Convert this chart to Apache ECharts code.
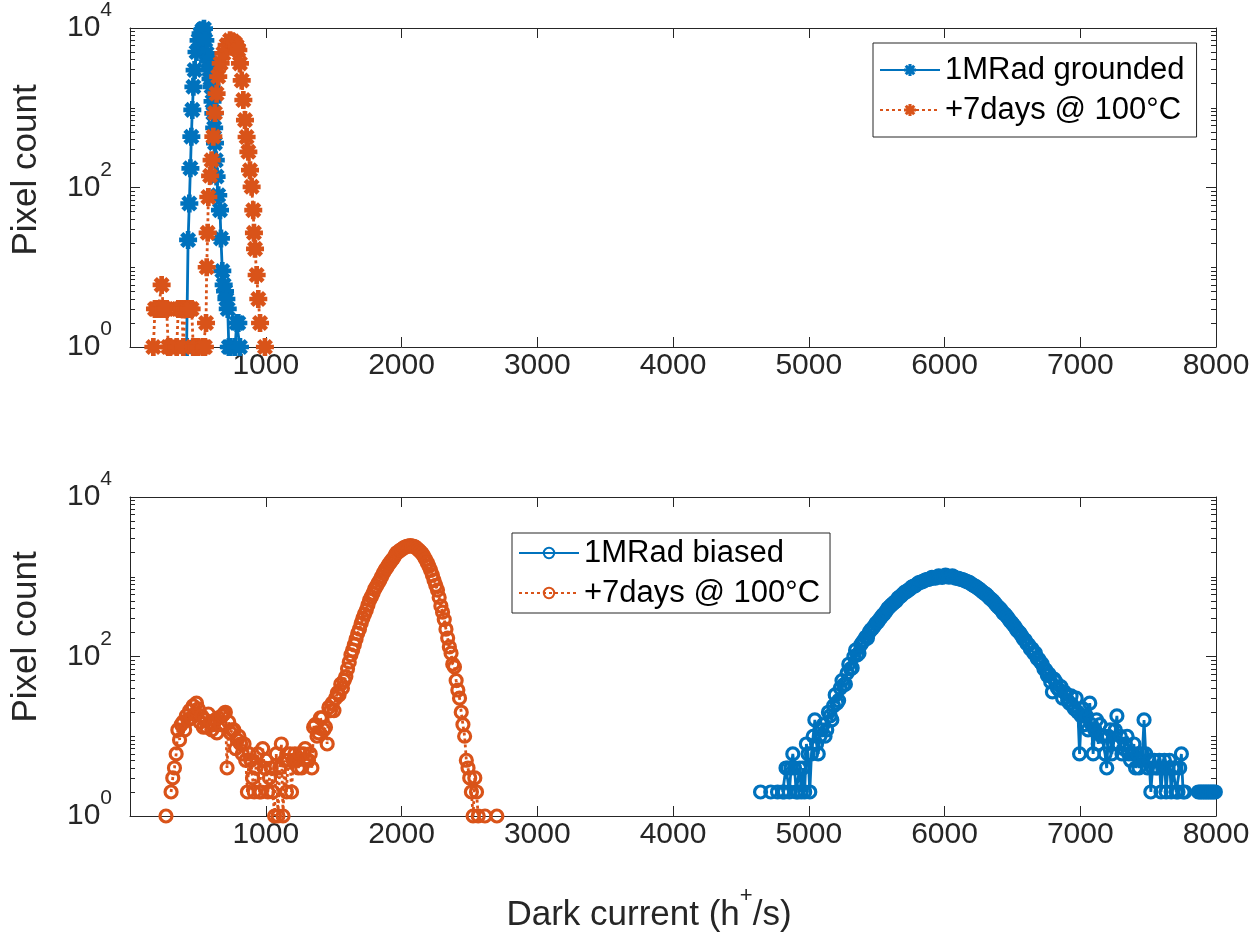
<!DOCTYPE html>
<html><head><meta charset="utf-8">
<script src="https://cdn.jsdelivr.net/npm/echarts@6/dist/echarts.min.js"></script>
<style>html,body{margin:0;padding:0;background:#fff}#c{width:1260px;height:941px}</style>
</head><body><div id="c"></div><script>
// ---------- DATA ----------
const xTicks = [0, 1000, 2000, 3000, 4000, 5000, 6000, 7000, 8000];
const yMajorTicks = [1, 100, 10000];
const yMinorTicks = [2,3,4,5,6,7,8,9,10,20,30,40,50,60,70,80,90,200,300,400,500,600,700,800,900,1000,2000,3000,4000,5000,6000,7000,8000,9000];

// Top panel: 1MRad grounded (x = dark current, y = pixel count, null = empty bin)
const groundedX = [417,428,437,445,452,459,467,476,490,505,520,533,545,555,565,575,584,593,601,608,614,620,626,632,638,650,663,670,680,690,700,710,720,728,740,752,774,786,798,810];
const groundedY = [1,22,63,174,434,940,1830,2970,5000,7000,8500,9400,9800,7000,4800,3800,3000,2300,1830,1200,850,560,360,220,137,80,52,23,9,6,5,4,3,1,1,null,1,2,2,1];

// Top panel: +7days @ 100°C (after grounded irradiation)
const groundedAnnealX = [172,184,196,209,221,233,245,258,270,282,295,320,344,356,368,381,393,405,417,429,442,454,466,479,491,503,515,540,552,560,565,572,577,590,601,614,626,638,650,668,688,712,737,755,773,786,798,810,823,835,847,859,872,884,896,908,913,921,933,945,958,970,994];
const groundedAnnealY = [1,3,3,3,3,6,3,3,3,1,1,null,1,3,3,3,1,3,3,3,3,3,1,null,1,1,null,1,1,2,10,27,76,140,220,434,860,1500,2460,3600,4800,6100,7000,6800,6400,5900,5300,3600,2200,1250,700,430,280,165,102,52,27,17,8,4,2,null,1];

// Bottom panel: histogram bins (first bin centre, bin width) and counts; each row = 8 bins (100 h+/s)
const biasedStart = 4645, biasedBinWidth = 12.5;
const biasedCounts = [
  2,null,null,null,null,null,2,null,        // 4645
  null,null,2,null,null,2,2,4,              // 4745
  4,2,4,6,4,2,2,4,                          // 4845
  2,4,2,8,6,2,6,10,                         // 4945
  16,8,6,10,12,14,10,12,                    // 5045
  20,18,16,24,33,26,28,40,                  // 5145
  50,44,45,62,80,70,72,100,                 // 5245
  120,105,110,140,150,160,175,170,          // 5345
  200,215,225,240,260,270,290,310,          // 5445
  330,345,370,400,420,440,460,480,          // 5545
  500,540,560,580,610,640,650,680,          // 5645
  700,740,760,770,800,840,850,860,          // 5745
  880,910,920,930,950,980,970,960,          // 5845
  990,1030,1000,980,1010,1050,1020,990,     // 5945
  1000,1030,990,960,960,950,930,920,        // 6045
  900,880,860,850,820,790,770,750,          // 6145
  720,700,670,640,620,600,570,540,          // 6245
  520,500,470,440,420,400,380,350,          // 6345
  340,320,300,280,265,250,235,215,          // 6445
  205,195,180,165,160,145,140,125,          // 6545
  125,110,110,95,92,85,80,70,               // 6645
  68,58,60,48,36,52,48,40,                  // 6745
  38,42,30,36,34,28,26,32,                  // 6845
  24,22,30,20,6,18,22,14,                   // 6945
  18,12,26,14,6,12,16,8,                    // 7045
  14,10,10,6,4,10,12,6,                     // 7145
  8,12,18,8,10,6,7,8,                       // 7245
  10,6,5,6,8,4,6,4,                         // 7345
  5,6,16,6,4,5,2,4,                         // 7445
  5,4,4,5,2,4,5,2,                          // 7545
  4,5,2,4,4,2,2,4,                          // 7645
  6,2,2,null,null,null,null,null,           // 7745
  null,null,2,2,2,2,2,2,                    // 7845
  2,2,2,2,2                                 // 7945
];
const biasedAnnealStart = 265, biasedAnnealBinWidth = 12.5;
const biasedAnnealCounts = [
  1,null,null,2,3,4,6,12,                   // 265
  9,14,15,12,18,16,21,17,                   // 365
  24,19,26,22,15,18,13,16,                  // 465
  13,19,15,12,14,16,11,17,                  // 565
  14,18,19,20,4,15,11,12,                   // 665
  12,7,9,10,8,6,8,5,                        // 765
  2,6,5,3,2,4,6,2,                          // 865
  2,7,4,5,2,3,4,2,                          // 965
  1,6,1,4,8,1,5,2,                          // 1065
  5,6,2,5,6,5,4,6,                          // 1165
  4,6,7,5,5,6,4,13,                         // 1265
  14,10,11,17,17,12,13,8,                   // 1365
  23,21,26,21,30,35,33,45,                  // 1465
  40,50,56,70,85,105,120,140,               // 1565
  165,195,220,260,300,340,380,440,          // 1665
  510,560,620,700,760,830,900,1000,         // 1765
  1100,1200,1290,1400,1500,1600,1700,1850,  // 1865
  2000,2050,2150,2200,2300,2350,2400,2420,  // 1965
  2450,2430,2400,2350,2250,2150,2050,1950,  // 2065
  1800,1650,1500,1350,1200,1050,900,780,    // 2165
  680,550,430,360,290,220,170,132,          // 2265
  110,80,74,50,38,30,20,14,                 // 2365
  10,5,4,3,2,1,3,2,                         // 2465
  1,null,null,null,1,null,null,null,        // 2565
  null,null,null,1                          // 2665
];

const names = ['1MRad grounded', '+7days @ 100°C', '1MRad biased', '+7days @ 100°C\u200b'];
const BLUE = '#0072BD', ORANGE = '#D95319', AX = '#262626';

// ---------- FONTS ----------
function hasFont(name) {
  const c = document.createElement('canvas').getContext('2d');
  c.font = '40px monospace';
  const w0 = c.measureText('abcdefgMRW1000').width;
  c.font = '40px "' + name + '", monospace';
  return Math.abs(c.measureText('abcdefgMRW1000').width - w0) > 0.5;
}
const NARROW = hasFont('Liberation Sans Narrow');
const FF = NARROW ? '"Liberation Sans Narrow", "Liberation Sans", Arial, sans-serif' : '"Liberation Sans", Arial, sans-serif';
const FS_TICK = NARROW ? 36 : 30;
const FS_SUP = NARROW ? 24 : 21;
const FS_TITLE = NARROW ? 41 : 35;
const FS_LEG = NARROW ? 36 : 31;

// ---------- HELPERS ----------
function pairs(xs, ys) { return xs.map((x, i) => [x, ys[i] == null ? '-' : ys[i]]); }
function bins(start, w, counts) { return counts.map((c, i) => [start + i * w, c == null ? '-' : c]); }
const ASTERISK = 'path://M-2.6,-10L2.6,-10L2.6,10L-2.6,10Z M-10,-2.6L10,-2.6L10,2.6L-10,2.6Z M-5.23,-8.91L8.91,5.23L5.23,8.91L-8.91,-5.23Z M5.23,-8.91L8.91,-5.23L-5.23,8.91L-8.91,5.23Z';

const grids = [
  {left: 130, right: 44, top: 28, height: 319, outerBoundsMode: 'none', containLabel: false},
  {left: 130, right: 44, top: 497, height: 319, outerBoundsMode: 'none', containLabel: false}
];

function xAxes(g, withName) {
  const base = {type: 'value', gridIndex: g, min: xTicks[0], max: xTicks[xTicks.length - 1], interval: 1000,
    splitLine: {show: false}, axisLine: {show: true, onZero: false, lineStyle: {color: AX, width: 1}},
    axisTick: {show: true, inside: true, length: 10, lineStyle: {color: AX}}};
  const bottom = Object.assign({}, base, {position: 'bottom',
    axisLabel: {show: true, margin: 4, color: AX, fontFamily: FF, fontSize: FS_TICK,
      formatter: v => v === 0 ? '' : String(v)}});
  if (withName) {
    Object.assign(bottom, {name: '{a|Dark current (h}{s|+}{a|/s)}', nameLocation: 'middle', nameGap: 69,
      nameTextStyle: {padding: [0, 48, 0, 0], rich: {
        a: {fontFamily: FF, fontSize: FS_TITLE, color: AX, lineHeight: 60, verticalAlign: 'middle'},
        s: {fontFamily: FF, fontSize: Math.round(FS_TITLE * 0.62), color: AX, lineHeight: 60, verticalAlign: 'top'}}}});
  }
  const top = Object.assign({}, base, {position: 'top', axisLabel: {show: false}});
  return [bottom, top];
}
function yAxes(g) {
  const common = {type: 'log', logBase: 10, gridIndex: g, min: 1, max: 10000, splitLine: {show: false}};
  const lab = {show: true, margin: 18, customValues: yMajorTicks,
    formatter: v => '{b|10}{s|' + Math.round(Math.log10(v)) + '}',
    rich: {b: {fontFamily: FF, fontSize: FS_TICK, color: AX, lineHeight: 56, verticalAlign: 'middle'},
           s: {fontFamily: FF, fontSize: FS_SUP, color: AX, lineHeight: 56, verticalAlign: 'top'}}};
  return [
    Object.assign({}, common, {position: 'left', axisLine: {show: true, lineStyle: {color: AX}},
      axisTick: {show: true, inside: true, length: 10, customValues: yMajorTicks, lineStyle: {color: AX}}, axisLabel: lab}),
    Object.assign({}, common, {position: 'left', axisLine: {show: false},
      axisTick: {show: true, inside: true, length: 5, customValues: yMinorTicks, lineStyle: {color: AX}}, axisLabel: {show: false}}),
    Object.assign({}, common, {position: 'right', axisLine: {show: true, lineStyle: {color: AX}},
      axisTick: {show: true, inside: true, length: 10, customValues: yMajorTicks, lineStyle: {color: AX}}, axisLabel: {show: false}}),
    Object.assign({}, common, {position: 'right', axisLine: {show: false},
      axisTick: {show: true, inside: true, length: 5, customValues: yMinorTicks, lineStyle: {color: AX}}, axisLabel: {show: false}})
  ];
}

function starSeries(name, data, color, dotted, xi, yi) {
  return {type: 'line', name, data, xAxisIndex: xi, yAxisIndex: yi, clip: false,
    symbol: ASTERISK, symbolSize: 18, showAllSymbol: true, animation: false,
    lineStyle: {color, width: 2.8, type: dotted ? [3, 3] : 'solid'},
    itemStyle: {color, borderWidth: 0}, emphasis: {disabled: true}};
}
function circleSeries(name, data, color, dotted, xi, yi) {
  return {type: 'line', name, data, xAxisIndex: xi, yAxisIndex: yi, clip: false,
    symbol: 'circle', symbolSize: 12, showAllSymbol: true, animation: false,
    lineStyle: {color, width: 2.8, type: dotted ? [3, 3] : 'solid'},
    itemStyle: {color: 'rgba(255,255,255,0)', borderColor: color, borderWidth: 3.2}, emphasis: {disabled: true}};
}

const legendText = {fontFamily: FF, fontSize: FS_LEG, color: '#000', lineHeight: 40};
const option = {
  animation: false,
  backgroundColor: '#fff',
  grid: grids,
  xAxis: [...xAxes(0, false), ...xAxes(1, true)],
  yAxis: [...yAxes(0), ...yAxes(1)],
  legend: [
    {data: [names[0], names[1]], orient: 'vertical', left: 873, top: 43, itemWidth: 60, itemHeight: 15, itemGap: 0,
     padding: [7, 12, 7, 6], borderColor: AX, borderWidth: 1, backgroundColor: '#fff', textStyle: legendText,
     selectedMode: false},
    {data: [names[2], names[3]], orient: 'vertical', left: 512, top: 533, itemWidth: 60, itemHeight: 13, itemGap: 0,
     padding: [0, 10, 0, 6], borderColor: AX, borderWidth: 1, backgroundColor: '#fff', textStyle: legendText,
     selectedMode: false}
  ],
  graphic: [
    {type: 'text', x: 26, y: 170, rotation: Math.PI / 2,
     style: {text: 'Pixel count', font: FS_TITLE + 'px ' + FF, fill: AX, textAlign: 'center', textVerticalAlign: 'middle'}},
    {type: 'text', x: 26, y: 637, rotation: Math.PI / 2,
     style: {text: 'Pixel count', font: FS_TITLE + 'px ' + FF, fill: AX, textAlign: 'center', textVerticalAlign: 'middle'}}
  ],
  series: [
    starSeries(names[0], pairs(groundedX, groundedY), BLUE, false, 0, 0),
    starSeries(names[1], pairs(groundedAnnealX, groundedAnnealY), ORANGE, true, 0, 0),
    circleSeries(names[2], bins(biasedStart, biasedBinWidth, biasedCounts), BLUE, false, 2, 4),
    circleSeries(names[3], bins(biasedAnnealStart, biasedAnnealBinWidth, biasedAnnealCounts), ORANGE, true, 2, 4)
  ]
};
const chart = echarts.init(document.getElementById('c'), null, {renderer: 'canvas'});
chart.setOption(option);
</script></body></html>
